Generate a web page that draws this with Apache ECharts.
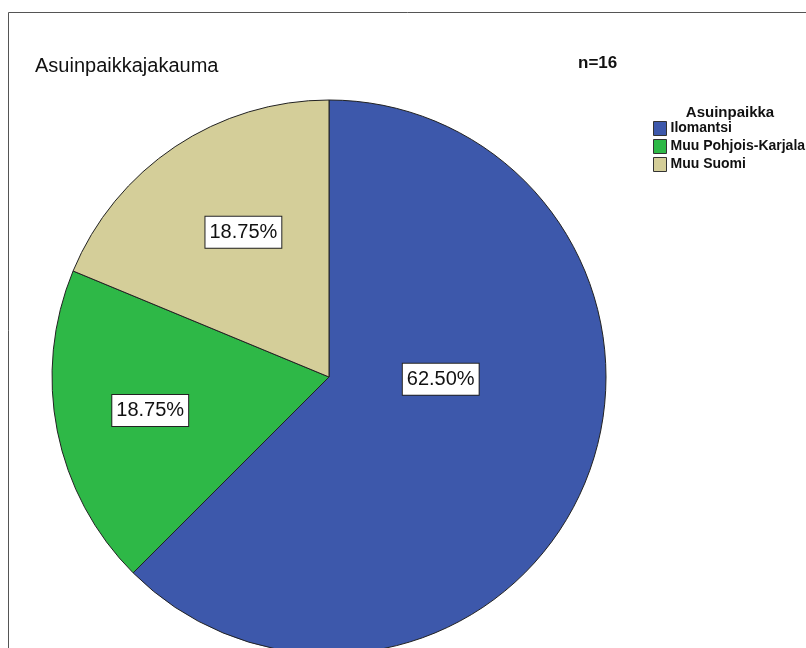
<!DOCTYPE html>
<html>
<head>
<meta charset="utf-8">
<title>Asuinpaikkajakauma</title>
<script src="https://cdn.jsdelivr.net/npm/echarts@6/dist/echarts.min.js"></script>
<style>
  html, body { margin: 0; padding: 0; background: #ffffff; }
  #chart { width: 806px; height: 648px; }
</style>
</head>
<body>
<div id="chart"></div>
<script>
// Residence distribution of respondents (n = 16)
const categories = ['Ilomantsi', 'Muu Pohjois-Karjala', 'Muu Suomi'];
const counts = [10, 3, 3];
const sliceColors = ['#3d58ab', '#2eb847', '#d4ce99'];
const totalN = counts.reduce((a, b) => a + b, 0);

// Nudges that move each percentage box away from the default inside spot
const labelShift = [[-19, -52], [-40, 6], [-7, -27]];

const FONT = '"Liberation Sans", Arial, Helvetica, sans-serif';

const chart = echarts.init(document.getElementById('chart'), null, { renderer: 'canvas' });

chart.setOption({
  animation: false,
  backgroundColor: '#ffffff',
  textStyle: { fontFamily: FONT },
  graphic: [{
    type: 'rect',
    z: -10,
    silent: true,
    shape: { x: 8.5, y: 12.5, width: 1000, height: 1000 },
    style: { fill: null, stroke: '#555555', lineWidth: 1 }
  }],
  title: [
    {
      text: 'Asuinpaikkajakauma',
      left: 35, top: 56, padding: 0,
      textStyle: { fontFamily: FONT, fontSize: 20, fontWeight: 'normal', color: '#111111', lineHeight: 20 }
    },
    {
      text: 'n=' + totalN,
      left: 578, top: 55, padding: 0,
      textStyle: { fontFamily: FONT, fontSize: 17, fontWeight: 'bold', color: '#111111', lineHeight: 17 }
    },
    {
      text: 'Asuinpaikka',
      left: 730, top: 105, padding: 0, textAlign: 'center',
      textStyle: { fontFamily: FONT, fontSize: 15, fontWeight: 'bold', color: '#111111', lineHeight: 15 }
    }
  ],
  legend: {
    orient: 'vertical',
    left: 653, top: 121,
    padding: 0,
    itemWidth: 13, itemHeight: 14, itemGap: 3,
    icon: 'rect',
    selectedMode: false,
    data: categories,
    itemStyle: { borderColor: '#333333', borderWidth: 1 },
    textStyle: { fontFamily: FONT, fontSize: 14, fontWeight: 'bold', color: '#111111', lineHeight: 14, padding: [0, 0, 0, -1] }
  },
  series: [{
    type: 'pie',
    center: [329, 377],
    radius: 277,
    startAngle: 90,
    clockwise: true,
    avoidLabelOverlap: false,
    silent: true,
    emphasis: { disabled: true },
    itemStyle: { borderColor: '#222222', borderWidth: 1 },
    label: {
      show: true,
      position: 'inside',
      formatter: p => (p.value / totalN * 100).toFixed(2) + '%',
      fontFamily: FONT,
      fontSize: 20,
      lineHeight: 20,
      color: '#111111',
      backgroundColor: '#ffffff',
      borderColor: '#222222',
      borderWidth: 1,
      padding: [5, 4, 6, 4]
    },
    labelLine: { show: false },
    labelLayout: p => ({ dx: labelShift[p.dataIndex][0], dy: labelShift[p.dataIndex][1] }),
    data: categories.map((name, i) => ({
      name: name,
      value: counts[i],
      itemStyle: { color: sliceColors[i] }
    }))
  }]
});
</script>
</body>
</html>
